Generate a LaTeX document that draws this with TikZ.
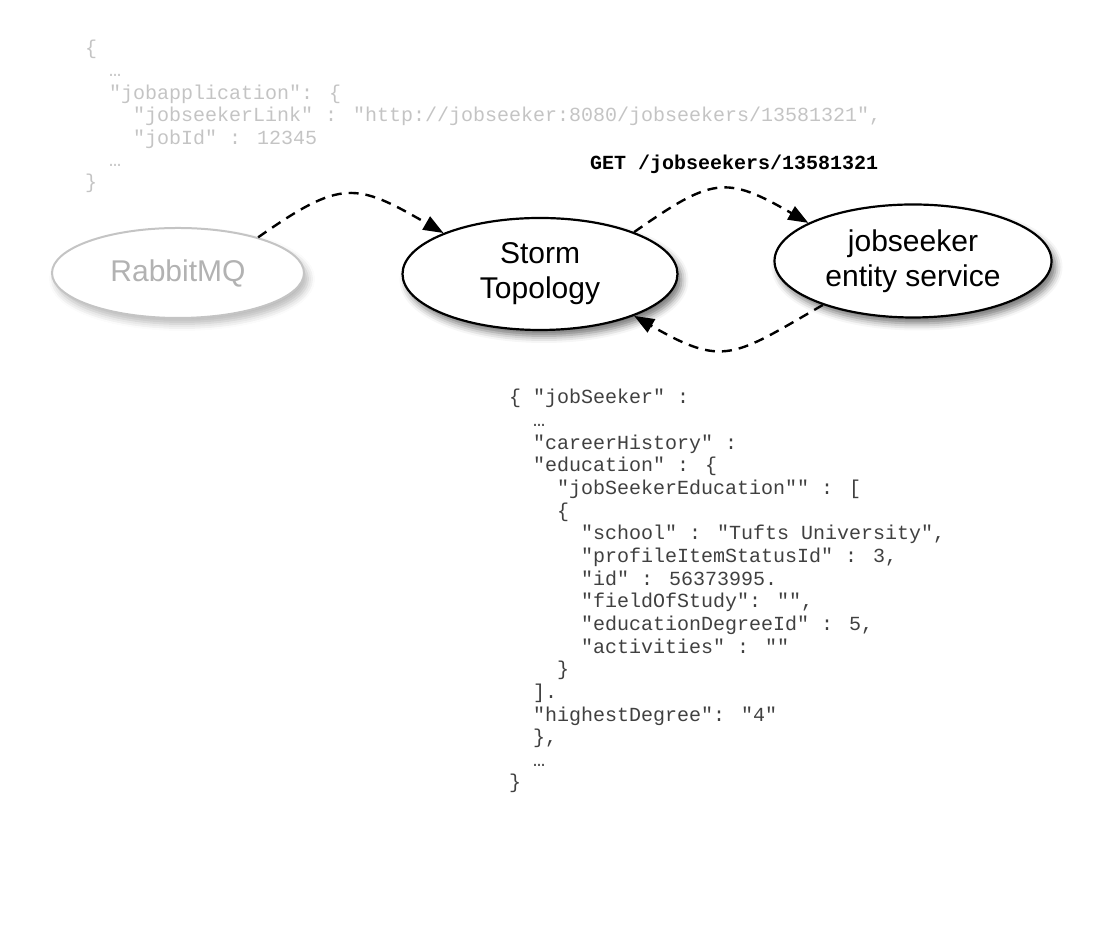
\documentclass[tikz,border=0pt]{standalone}
\usepackage{fontspec}
\setmainfont{Liberation Sans}
\newfontfamily\jsonfont{Liberation Mono}
\usetikzlibrary{arrows.meta,shapes.geometric,shadows.blur}

\definecolor{faded}{HTML}{C4C4C4}
\definecolor{fadedtext}{HTML}{B2B2B2}

\tikzset{
	service/.style={ellipse, draw, line width=2.2pt, fill=white, inner sep=0pt,
		minimum width=275pt, minimum height=112pt, align=center,
		font=\fontsize{30}{35}\selectfont,
		blur shadow={shadow xshift=4pt, shadow yshift=-6pt, shadow blur radius=7pt, shadow opacity=55}},
	queue/.style={service, draw=faded, text=fadedtext, line width=2pt,
		minimum width=252pt, minimum height=90pt,
		blur shadow={shadow xshift=4pt, shadow yshift=-6pt, shadow blur radius=7pt, shadow opacity=15}},
	flow/.style={line width=2.4pt, dash pattern=on 10pt off 7pt,
		-{Triangle[length=20pt,width=15pt]}},
	json/.style={anchor=base west, inner sep=0pt, align=left, text=black!75,
		font=\jsonfont\fontsize{20}{22.65}\selectfont}
}

\begin{document}
\begin{tikzpicture}[x=1pt,y=1pt]
	\useasboundingbox (0,0) rectangle (1100,925);
	
	% message from the queue
	\node[json, text=faded, font=\jsonfont\fontsize{20}{22.4}\selectfont] (message) at (85,736) {%
		\{\\
		~~…\\
		~~"jobapplication": \{\\
		~~~~"jobseekerLink" : "http://jobseeker:8080/jobseekers/13581321",\\
		~~~~"jobId" : 12345\\
		~~…\\
		\}};
	
	\node[queue] (rabbit) at (178,652) {RabbitMQ};
	\node[service] (storm) at (540,651) {Storm\\Topology};
	\node[service, minimum width=277pt, minimum height=113pt] (seeker) at (913,664) {jobseeker\\entity service};
	
	\draw[flow] (rabbit.24) to[out=35, in=150, looseness=1.4] (storm.157);
	\draw[flow] (storm.24) to[out=35, in=150, looseness=1.4] (seeker.160);
	\draw[flow] (seeker.206) to[out=210, in=-30, looseness=1.4] (storm.336);
	
	\node[anchor=base west, inner sep=0pt, font=\jsonfont\bfseries\fontsize{20}{22}\selectfont] (request) at (590,755) {GET /jobseekers/13581321};
	
	% response of the entity service
	\node[json] (response) at (509,136) {%
		\{ "jobSeeker" :\\
		~~…\\
		~~"careerHistory" :\\
		~~"education" : \{\\
		~~~~"jobSeekerEducation"" : [\\
		~~~~\{\\
		~~~~~~"school" : "Tufts University",\\
		~~~~~~"profileItemStatusId" : 3,\\
		~~~~~~"id" : 56373995.\\
		~~~~~~"fieldOfStudy": "",\\
		~~~~~~"educationDegreeId" : 5,\\
		~~~~~~"activities" : ""\\
		~~~~\}\\
		~~].\\
		~~"highestDegree": "4"\\
		~~\},\\
		~~…\\
		\}};
	
\end{tikzpicture}
\end{document}
